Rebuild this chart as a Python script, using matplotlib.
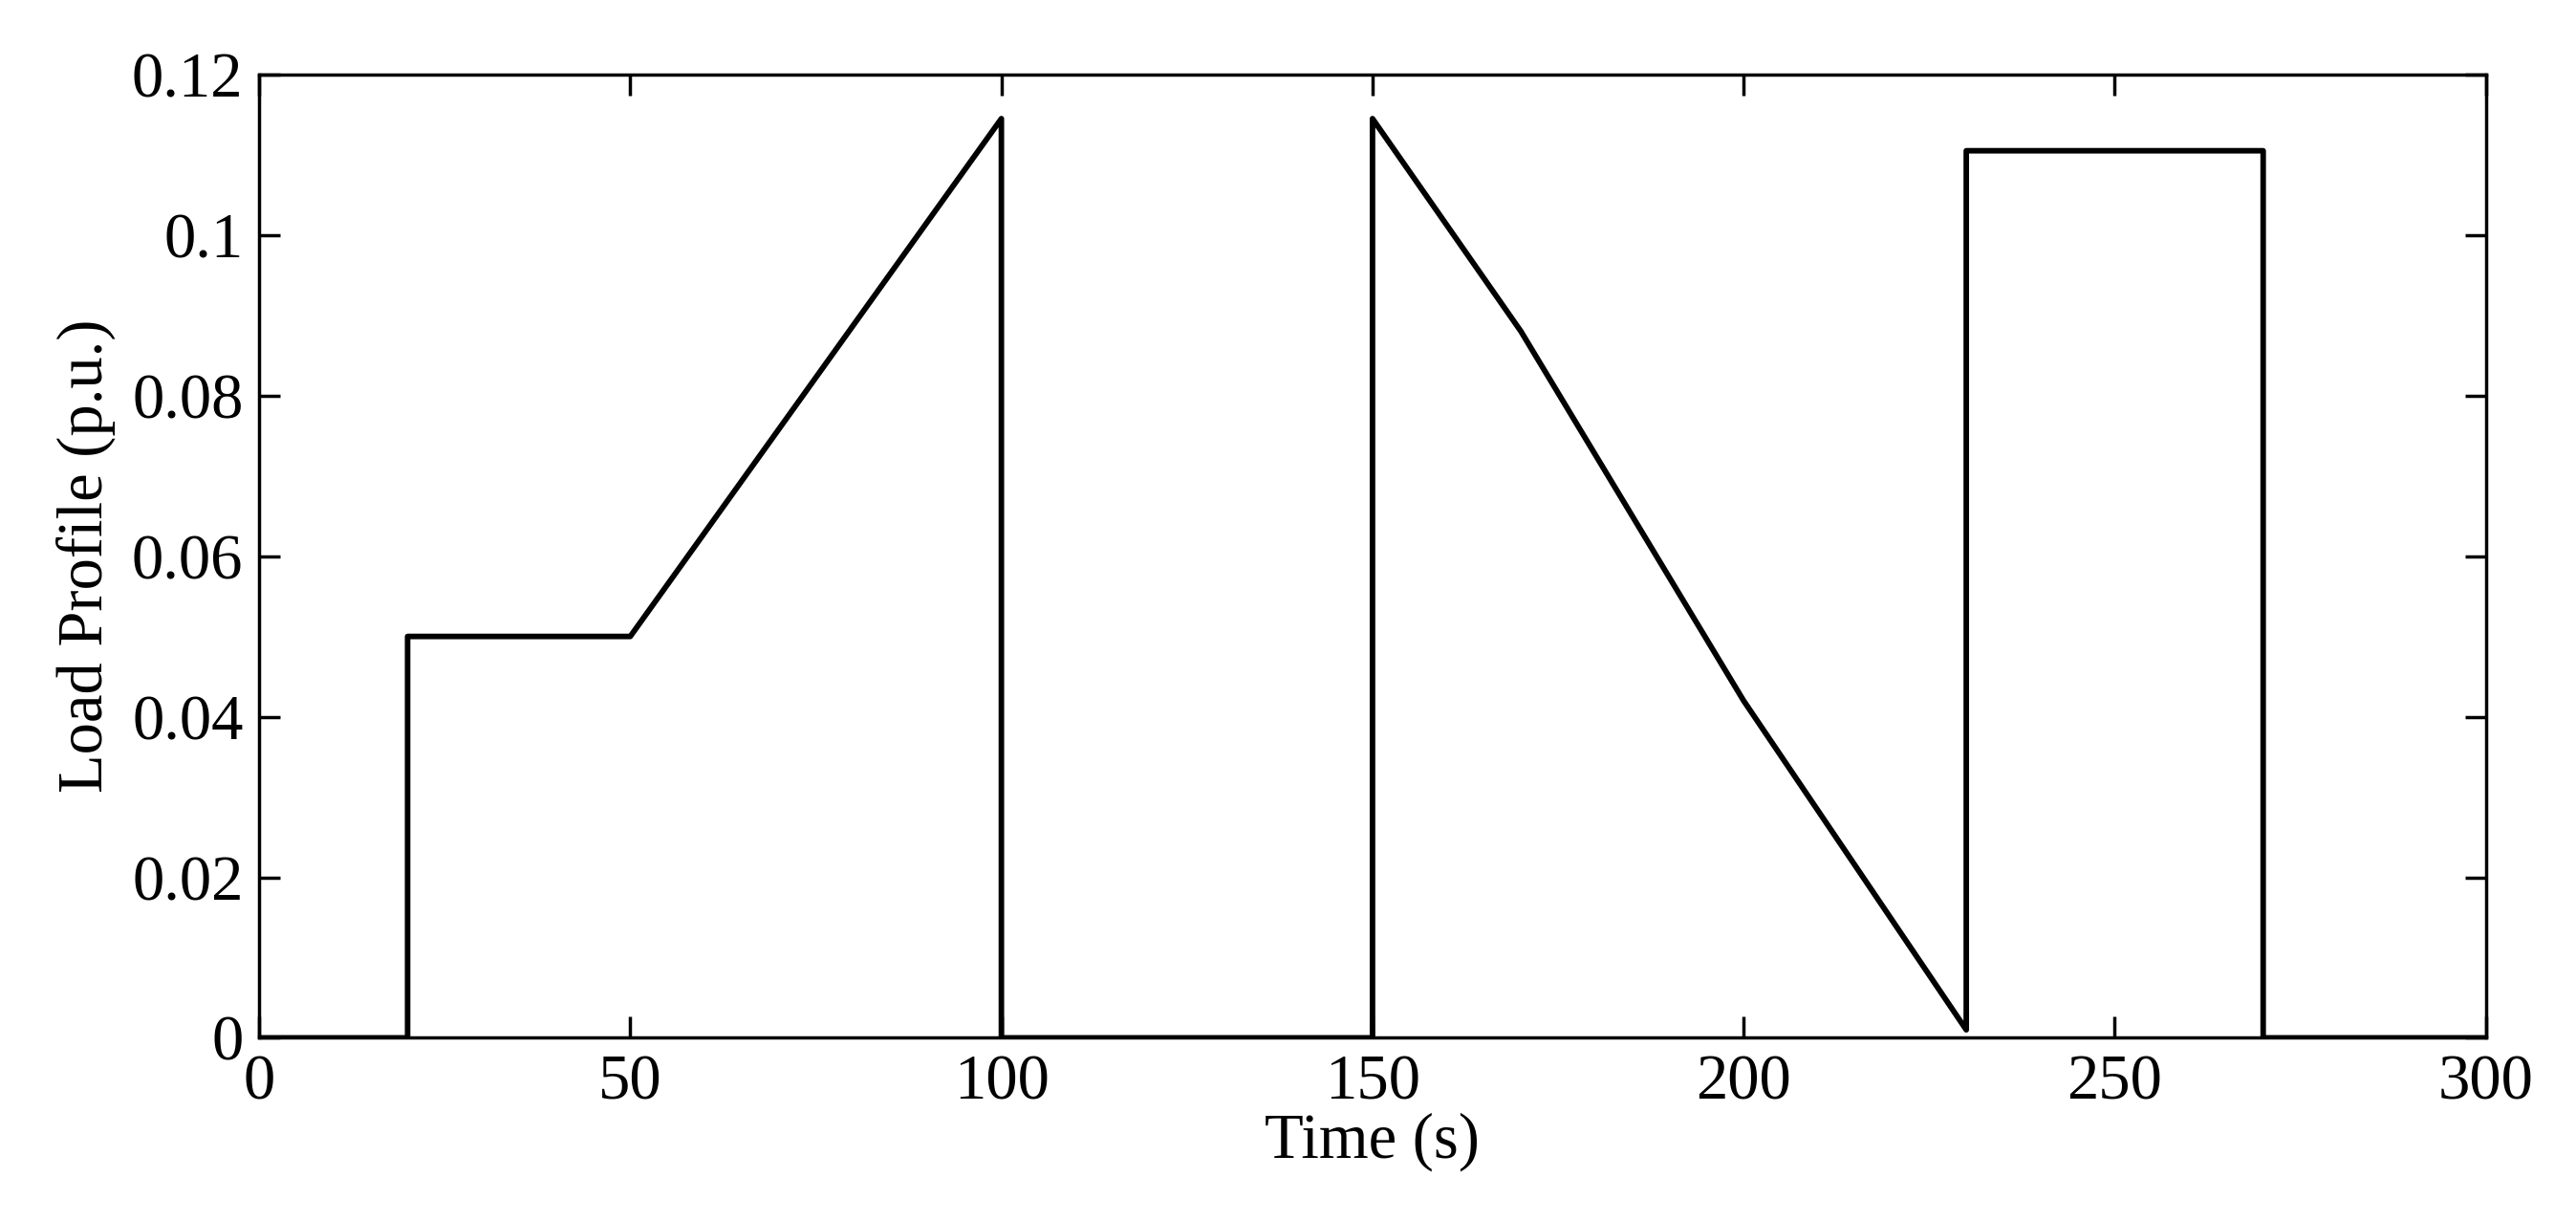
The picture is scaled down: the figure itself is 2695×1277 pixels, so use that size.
import matplotlib.pyplot as plt
import numpy as np

# load profile breakpoints
time_s = np.array([0, 20, 20, 50, 100, 100, 150, 150, 170, 200, 230, 230, 270, 270, 300])
load_pu = np.array([0, 0, 0.05, 0.05, 0.1145, 0, 0, 0.1145, 0.088, 0.042, 0.001, 0.1105, 0.1105, 0, 0])

plt.rcParams['font.family'] = ['Liberation Serif', 'DejaVu Serif']

fig = plt.figure(figsize=(26.95, 12.77), dpi=100)
ax = fig.add_axes([0.1006, 0.150, 0.8644, 0.789])
ax.plot(time_s, load_pu, color='k', lw=4.2)
ax.set_xlim(0, 300)
ax.set_ylim(0, 0.12)
ax.set_xticks([0, 50, 100, 150, 200, 250, 300])
ax.set_yticks([0, 0.02, 0.04, 0.06, 0.08, 0.1, 0.12])
ax.set_yticklabels(['0', '0.02', '0.04', '0.06', '0.08', '0.1', '0.12'])
ax.tick_params(direction='in', top=True, right=True, labelsize=48, length=16, width=2.5, pad=12)
for s in ax.spines.values():
    s.set_linewidth(2.5)
ax.set_xlabel('Time (s)', fontsize=48, labelpad=0)
ax.set_ylabel('Load Profile (p.u.)', fontsize=48, labelpad=12)
fig.savefig('out.png')
